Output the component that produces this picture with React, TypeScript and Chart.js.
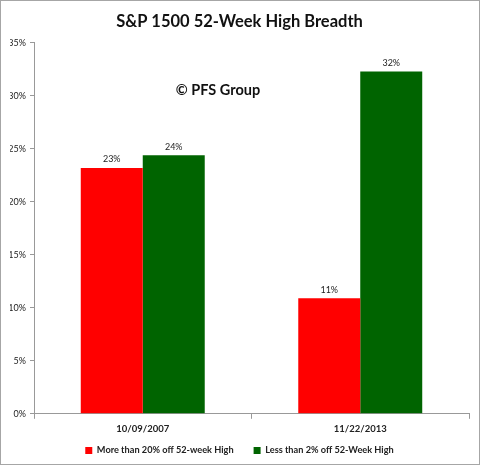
import React, { useEffect, useRef } from "react";
import { Chart, registerables } from "chart.js";

Chart.register(...registerables);

const categories = ["10/09/2007", "11/22/2013"];
const seriesNames = ["More than 20% off 52-week High", "Less than 2% off 52-Week High"];
const moreThan20Off = [23.2, 10.9];
const lessThan2Off = [24.4, 32.3];
const seriesColors = ["#FF0000", "#006400"];
const titleText = "S&P 1500 52-Week High Breadth";
const watermarkText = "© PFS Group";

const FONT = "Lato, 'Open Sans', sans-serif";

const framePlugin = {
  id: "frame",
  beforeDraw(chart: any) {
    const { ctx, width, height } = chart;
    ctx.save();
    ctx.fillStyle = "#ffffff";
    ctx.fillRect(0, 0, width, height);
    ctx.strokeStyle = "#a6a6a6";
    ctx.lineWidth = 1;
    ctx.strokeRect(0.5, 0.5, width - 1, height - 1);
    ctx.restore();
  },
  afterLayout(chart: any) {
    // pull the legend row a little closer to the category labels
    if (chart.legend) {
      chart.legend.top -= 10;
      chart.legend.bottom -= 10;
    }
  },
};

const labelsPlugin = {
  id: "barLabels",
  afterDatasetsDraw(chart: any) {
    const { ctx } = chart;
    ctx.save();
    ctx.font = `9px ${FONT}`;
    ctx.fillStyle = "#222";
    ctx.textAlign = "center";
    ctx.textBaseline = "bottom";
    chart.data.datasets.forEach((ds: any, i: number) => {
      const meta = chart.getDatasetMeta(i);
      meta.data.forEach((bar: any, j: number) => {
        ctx.fillText(Math.round(ds.data[j]) + "%", bar.x, bar.y - 4);
      });
    });
    // watermark
    const area = chart.chartArea;
    ctx.font = `bold 14.5px ${FONT}`;
    ctx.fillStyle = "#111";
    ctx.textBaseline = "middle";
    ctx.fillText(watermarkText, area.left + 184, area.top + 48);
    ctx.restore();
  },
};

export default function App() {
  const ref = useRef<HTMLCanvasElement>(null);
  useEffect(() => {
    document.body.style.margin = "0";
    const chart = new Chart(ref.current!, {
      type: "bar",
      data: {
        labels: categories,
        datasets: [
          {
            label: seriesNames[0],
            data: moreThan20Off,
            backgroundColor: seriesColors[0],
            categoryPercentage: 0.57,
            barPercentage: 1,
          },
          {
            label: seriesNames[1],
            data: lessThan2Off,
            backgroundColor: seriesColors[1],
            categoryPercentage: 0.57,
            barPercentage: 1,
          },
        ],
      },
      options: {
        responsive: false,
        animation: false,
        layout: { padding: { left: 10, right: 11, bottom: -10, top: 0 } },
        plugins: {
          title: {
            display: true,
            text: titleText,
            color: "#111",
            font: { family: FONT, size: 16.5, weight: "bold" },
            padding: { top: 12, bottom: 11 },
          },
          legend: {
            position: "bottom",
            labels: {
              boxWidth: 7,
              boxHeight: 7,
              color: "#222",
              font: { family: FONT, size: 9.2, weight: "bold" },
              padding: 20,
            },
          },
          tooltip: { enabled: false },
        },
        scales: {
          x: {
            grid: { display: true, drawOnChartArea: false, drawTicks: true, tickLength: 5, color: "#999" },
            border: { display: true, color: "#999" },
            ticks: { color: "#222", font: { family: FONT, size: 9.5, weight: "bold" }, padding: 4 },
            afterFit: (s: any) => { s.height = 22; },
          },
          y: {
            min: 0,
            max: 35,
            grid: { display: true, drawOnChartArea: false, drawTicks: true, tickLength: 4, color: "#999" },
            border: { display: true, color: "#999" },
            ticks: {
              stepSize: 5,
              color: "#222",
              font: { family: FONT, size: 9 },
              padding: 4,
              callback: (v: any) => v + "%",
            },
            afterFit: (s: any) => { s.width = 24; },
          },
        },
      },
      plugins: [framePlugin, labelsPlugin],
    });
    return () => chart.destroy();
  }, []);
  return <canvas ref={ref} width={480} height={465} style={{ display: "block" }} />;
}
